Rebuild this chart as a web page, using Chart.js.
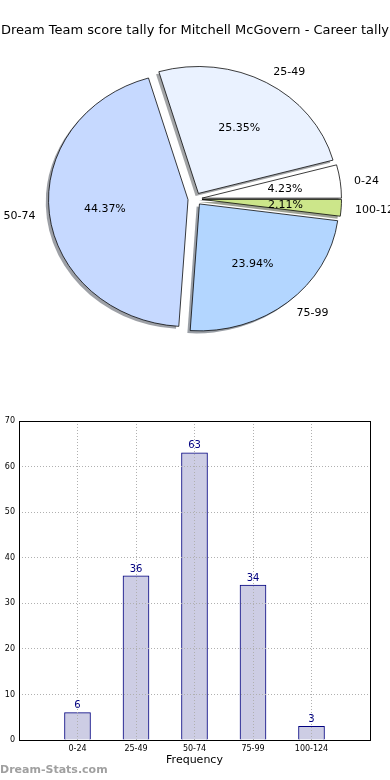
<!DOCTYPE html>
<html>
<head>
<meta charset="utf-8">
<script src="https://cdn.jsdelivr.net/npm/chart.js@4.4.1/dist/chart.umd.min.js"></script>
<style>
  html, body { margin: 0; padding: 0; background: #fff; }
  #wrap { position: relative; width: 390px; height: 780px; overflow: hidden; }
  canvas { display: block; }
</style>
</head>
<body>
<div id="wrap">
  <canvas id="pie" width="390" height="400"></canvas>
  <canvas id="bars" width="390" height="380"></canvas>
</div>
<script>
// data
const categories = ['0-24', '25-49', '50-74', '75-99', '100-124'];
const counts = [6, 36, 63, 34, 3];
const pieColours = ['#ffffff', '#eaf2ff', '#c6d9ff', '#b3d6ff', '#cce68a'];
const yTicks = [0, 10, 20, 30, 40, 50, 60, 70];
const titleText = 'Dream Team score tally for Mitchell McGovern - Career tally';

Chart.defaults.font.family = "'DejaVu Sans', sans-serif";
Chart.defaults.color = '#000';

const total = counts.reduce((a, b) => a + b, 0);
const pctLabels = counts.map(c => (c / total * 100).toFixed(2) + '%');

// matplotlib goes counter-clockwise from 3 o'clock, chart.js clockwise -> reverse
const pieLabels = categories.slice().reverse();
const pieData = counts.slice().reverse();
const pieFill = pieColours.slice().reverse();
const piePct = pctLabels.slice().reverse();

const SQUASH = 0.91;   // pie axes were not square, so the pie is an ellipse
const EXPLODE = 7;     // px each slice is pushed out along its middle angle

function hexToShadow(hex) {
    const n = parseInt(hex.slice(1), 16);
    const r = Math.round(((n >> 16) & 255) * 0.3);
    const g = Math.round(((n >> 8) & 255) * 0.3);
    const b = Math.round((n & 255) * 0.3);
    return 'rgba(' + r + ',' + g + ',' + b + ',0.5)';
}

function pieCentre(chart) {
    const a = chart.chartArea;
    return [(a.left + a.right) / 2, (a.top + a.bottom) / 2];
}

const ellipsePie = {
    id: 'ellipsePie',
    afterDatasetUpdate(chart) {
        // explode: move every slice's centre out, like matplotlib's explode
        const [cx, cy] = pieCentre(chart);
        chart.getDatasetMeta(0).data.forEach(arc => {
            const mid = (arc.startAngle + arc.endAngle) / 2;
            arc.x = cx + Math.cos(mid) * EXPLODE;
            arc.y = cy + Math.sin(mid) * EXPLODE;
        });
    },
    beforeDatasetsDraw(chart) {
        const ctx = chart.ctx;
        const arcs = chart.getDatasetMeta(0).data;
        const [cx, cy] = pieCentre(chart);
        // shadows first, like matplotlib shadow=True
        arcs.forEach((arc, i) => {
            ctx.save();
            ctx.translate(-2.8, 2.5);
            ctx.translate(cx, cy);
            ctx.scale(1, SQUASH);
            ctx.translate(-cx, -cy);
            ctx.beginPath();
            ctx.moveTo(arc.x, arc.y);
            ctx.arc(arc.x, arc.y, arc.outerRadius, arc.startAngle, arc.endAngle);
            ctx.closePath();
            ctx.fillStyle = hexToShadow(pieFill[i]);
            ctx.fill();
            ctx.restore();
        });
        ctx.save();
        ctx.translate(cx, cy);
        ctx.scale(1, SQUASH);
        ctx.translate(-cx, -cy);
    },
    afterDatasetsDraw(chart) {
        chart.ctx.restore();
    },
    afterDraw(chart) {
        const ctx = chart.ctx;
        const arcs = chart.getDatasetMeta(0).data;
        const [cx, cy] = pieCentre(chart);
        ctx.save();
        ctx.font = "11px 'DejaVu Sans'";
        ctx.fillStyle = '#000';
        ctx.textBaseline = 'middle';
        arcs.forEach((arc, i) => {
            const mid = (arc.startAngle + arc.endAngle) / 2;
            const R = arc.outerRadius;
            const toScreen = (r) => [arc.x + Math.cos(mid) * r, cy + (arc.y + Math.sin(mid) * r - cy) * SQUASH + 1];
            const [lx, ly] = toScreen(R * 1.1);
            ctx.textAlign = Math.cos(mid) >= 0 ? 'left' : 'right';
            ctx.fillText(pieLabels[i], lx, ly);
            const [tx, ty] = toScreen(R * 0.6);
            ctx.textAlign = 'center';
            ctx.fillText(piePct[i], tx, ty);
        });
        ctx.restore();
    }
};

new Chart(document.getElementById('pie'), {
    type: 'pie',
    data: {
        labels: pieLabels,
        datasets: [{
            data: pieData,
            backgroundColor: pieFill,
            borderColor: '#000',
            borderWidth: 0.8,
            clip: false
        }]
    },
    options: {
        responsive: false,
        animation: false,
        rotation: 90,
        radius: 139.5,
        layout: { padding: { left: 1, right: 1, top: 0, bottom: 49.6 } },
        plugins: {
            legend: { display: false },
            tooltip: { enabled: false },
            title: {
                display: true,
                text: titleText,
                font: { size: 13, weight: 'normal' },
                color: '#000',
                padding: { top: 23, bottom: 9 }
            }
        }
    },
    plugins: [ellipsePie]
});

// ---- bar chart ----
// pad the category axis with empty slots so the bars sit at 1..5 of 0..6
const barLabels = [''].concat(categories, ['']);
const barData = [null].concat(counts, [null]);

const barExtras = {
    id: 'barExtras',
    afterDraw(chart) {
        const ctx = chart.ctx;
        const a = chart.chartArea;
        ctx.save();
        ctx.strokeStyle = '#000';
        ctx.lineWidth = 1;
        ctx.strokeRect(Math.round(a.left) + 0.5, Math.round(a.top) + 0.5,
            Math.round(a.right - a.left), Math.round(a.bottom - a.top));
        // value labels above bars
        ctx.font = "10px 'DejaVu Sans'";
        ctx.fillStyle = '#000080';
        ctx.textAlign = 'center';
        ctx.textBaseline = 'middle';
        chart.getDatasetMeta(0).data.forEach((bar, i) => {
            if (barData[i] == null) return;
            ctx.fillText(String(barData[i]), bar.x, bar.y - 7);
        });
        // watermark
        ctx.font = "bold 11px 'DejaVu Sans'";
        ctx.fillStyle = '#a0a0a0';
        ctx.textAlign = 'left';
        ctx.fillText('Dream-Stats.com', 0, 370);
        ctx.restore();
    }
};

new Chart(document.getElementById('bars'), {
    type: 'bar',
    data: {
        labels: barLabels,
        datasets: [{
            data: barData,
            backgroundColor: '#cdcde4',
            borderColor: '#000080',
            borderWidth: 1,
            barThickness: 26
        }]
    },
    options: {
        responsive: false,
        animation: false,
        layout: { padding: { left: 0, right: 20, top: 21, bottom: 0 } },
        plugins: {
            legend: { display: false },
            tooltip: { enabled: false }
        },
        scales: {
            x: {
                offset: false,
                grid: { color: '#b0b0b0', lineWidth: 1, drawTicks: false, offset: false, z: 1 },
                border: { display: false, dash: [1, 2] },
                ticks: { font: { size: 8 }, color: '#000', padding: 4, maxRotation: 0, autoSkip: false },
                title: {
                    display: true,
                    text: 'Frequency',
                    font: { size: 11 },
                    color: '#000',
                    padding: { top: 0, bottom: 13 }
                },
                afterFit(scale) { scale.height = 40; }
            },
            y: {
                min: yTicks[0],
                max: yTicks[yTicks.length - 1],
                afterBuildTicks(scale) { scale.ticks = yTicks.map(v => ({ value: v })); },
                grid: { color: '#b0b0b0', lineWidth: 1, drawTicks: false, z: 1 },
                border: { display: false, dash: [1, 2] },
                ticks: { font: { size: 8 }, color: '#000', padding: 4 },
                afterFit(scale) { scale.width = 19; }
            }
        }
    },
    plugins: [barExtras]
});
</script>
</body>
</html>
